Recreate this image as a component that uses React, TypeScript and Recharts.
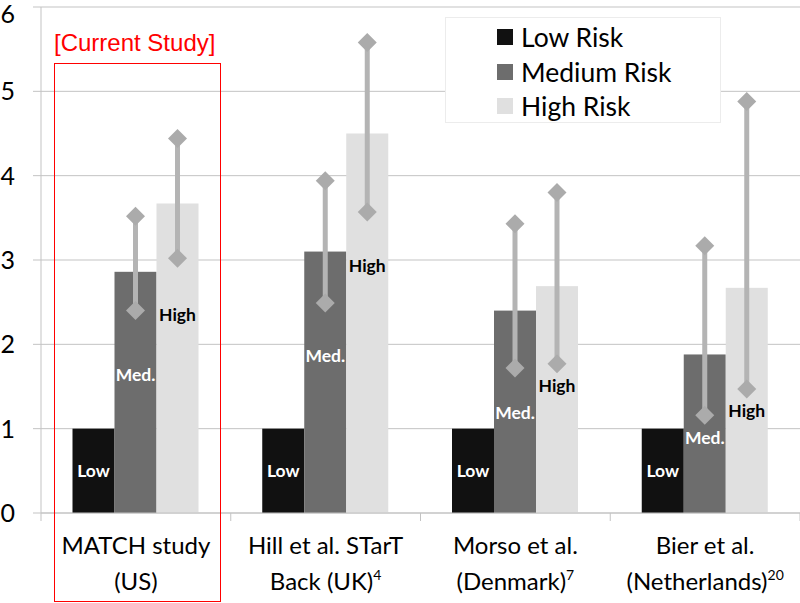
import React from "react";
import { BarChart, Bar, XAxis, YAxis, CartesianGrid, Legend } from "recharts";

// study names, split over two lines, with reference superscripts
const studyLine1 = ["MATCH study", "Hill et al. STarT", "Morso et al.", "Bier et al."];
const studyLine2 = ["(US)", "Back (UK)", "(Denmark)", "(Netherlands)"];
const studyRef = ["", "4", "7", "20"];

const seriesNames = ["Low Risk", "Medium Risk", "High Risk"];

const lowRisk = [1, 1, 1, 1];
const mediumRisk = [2.86, 3.1, 2.4, 1.88];
const highRisk = [3.67, 4.5, 2.69, 2.67];

// confidence intervals
const mediumLower = [2.4, 2.49, 1.72, 1.16];
const mediumUpper = [3.52, 3.94, 3.43, 3.17];
const highLower = [3.02, 3.57, 1.77, 1.47];
const highUpper = [4.44, 5.58, 3.8, 4.88];

// where the in-bar labels sit (in axis units)
const lowLabelAt = [0.5, 0.5, 0.5, 0.5];
const mediumLabelAt = [1.64, 1.87, 1.19, 0.89];
const highLabelAt = [2.35, 2.93, 1.51, 1.21];

const yTicks = [0, 1, 2, 3, 4, 5, 6];

const data = studyLine1.map((name, i) => ({
  name,
  low: lowRisk[i],
  medium: mediumRisk[i],
  high: highRisk[i],
  mediumLo: mediumLower[i],
  mediumHi: mediumUpper[i],
  highLo: highLower[i],
  highHi: highUpper[i],
  lowLabel: lowLabelAt[i],
  mediumLabel: mediumLabelAt[i],
  highLabel: highLabelAt[i],
}));

const GRID = "#c3c3c3";
const FONT = "Lato, 'Open Sans', sans-serif";

const diamond = (cx: number, cy: number, r = 9.5) =>
  `M${cx},${cy - r} L${cx + r},${cy} L${cx},${cy + r} L${cx - r},${cy} Z`;

function riskShape(
  valueKey: string,
  labelKey: string,
  text: string,
  textColor: string,
  loKey?: string,
  hiKey?: string
) {
  return (props: any) => {
    const { x, y, width, height, payload, fill } = props;
    const v = payload[valueKey];
    const unit = height / v;
    const base = y + height;
    const py = (n: number) => base - n * unit;
    const cx = x + width / 2;
    return (
      <g>
        <rect x={x} y={y} width={width} height={height} fill={fill} />
        {loKey && hiKey && (
          <g>
            <line
              x1={cx}
              x2={cx}
              y1={py(payload[loKey])}
              y2={py(payload[hiKey])}
              stroke="#b4b4b4"
              strokeWidth={5}
            />
            <path d={diamond(cx, py(payload[loKey]))} fill="#ababab" />
            <path d={diamond(cx, py(payload[hiKey]))} fill="#ababab" />
          </g>
        )}
        <text
          x={cx}
          y={py(payload[labelKey])}
          textAnchor="middle"
          dominantBaseline="central"
          fontFamily={FONT}
          fontWeight={700}
          fontSize={17.5}
          fill={textColor}
        >
          {text}
        </text>
      </g>
    );
  };
}

function StudyTick(props: any) {
  const { x, y, index, width, visibleTicksCount } = props;
  const half = width && visibleTicksCount ? width / visibleTicksCount / 2 : 95;
  const last = index === studyLine1.length - 1;
  return (
    <g>
      <line x1={x - half} x2={x - half} y1={y} y2={y + 8} stroke={GRID} />
      {last && <line x1={x + half} x2={x + half} y1={y} y2={y + 8} stroke={GRID} />}
      <text x={x} y={y + 41} textAnchor="middle" fontFamily={FONT} fontSize={24} fill="#000">
        {studyLine1[index]}
      </text>
      <text x={x} y={y + 77} textAnchor="middle" fontFamily={FONT} fontSize={24} fill="#000">
        {studyLine2[index]}
        {studyRef[index] && (
          <tspan dy={-10} fontSize={14}>
            {studyRef[index]}
          </tspan>
        )}
      </text>
    </g>
  );
}

function RiskLegend(props: any) {
  const { payload = [] } = props;
  const items = seriesNames
    .map((n) => payload.find((p: any) => p.value === n))
    .filter(Boolean);
  return (
    <div
      style={{
        width: 276,
        height: 106,
        background: "#fff",
        border: "1px solid #ececec",
        boxSizing: "border-box",
        paddingTop: 2,
        paddingLeft: 51,
        fontFamily: FONT,
        fontSize: 26.5,
        textAlign: "left",
      }}
    >
      {items.map((p: any) => (
        <div key={p.value} style={{ display: "flex", alignItems: "center", height: 34.5 }}>
          <span
            style={{ width: 16, height: 16, background: p.color, marginRight: 8, display: "inline-block" }}
          />
          <span>{p.value}</span>
        </div>
      ))}
    </div>
  );
}

export default function App() {
  return (
    <div style={{ position: "absolute", left: 0, top: 0, width: 800, height: 603, background: "#fff" }}>
      <BarChart
        width={800}
        height={603}
        data={data}
        margin={{ top: 7, right: 0, bottom: 0, left: 0 }}
        barCategoryGap="16.6%"
        barGap={0}
      >
        <CartesianGrid horizontal vertical={false} stroke={GRID} />
        <XAxis
          dataKey="name"
          height={90}
          tickSize={0}
          tickMargin={0}
          tickLine={false}
          axisLine={{ stroke: GRID }}
          tick={<StudyTick />}
          interval={0}
        />
        <YAxis
          width={41}
          domain={[0, 6]}
          ticks={yTicks}
          tickSize={8}
          tickMargin={18}
          axisLine={{ stroke: GRID }}
          tickLine={{ stroke: GRID }}
          tick={{ fontSize: 25, fill: "#000", fontFamily: FONT }}
        />
        <Legend
          layout="horizontal"
          align="center"
          verticalAlign="middle"
          wrapperStyle={{ left: 445, top: 17, width: 276, height: 106 }}
          content={<RiskLegend />}
        />
        <Bar
          dataKey="low"
          name="Low Risk"
          fill="#111111"
          isAnimationActive={false}
          shape={riskShape("low", "lowLabel", "Low", "#fff")}
        />
        <Bar
          dataKey="medium"
          name="Medium Risk"
          fill="#6d6d6d"
          isAnimationActive={false}
          shape={riskShape("medium", "mediumLabel", "Med.", "#fff", "mediumLo", "mediumHi")}
        />
        <Bar
          dataKey="high"
          name="High Risk"
          fill="#e0e0e0"
          isAnimationActive={false}
          shape={riskShape("high", "highLabel", "High", "#000", "highLo", "highHi")}
        />
      </BarChart>
      <div
        style={{
          position: "absolute",
          left: 54,
          top: 63,
          width: 167,
          height: 539,
          border: "1.5px solid #f00",
          boxSizing: "border-box",
          pointerEvents: "none",
        }}
      />
      <div
        style={{
          position: "absolute",
          left: 54,
          top: 29,
          fontFamily: "'Liberation Sans', Arial, sans-serif",
          fontSize: 24,
          color: "#f00",
          whiteSpace: "nowrap",
        }}
      >
        [Current Study]
      </div>
    </div>
  );
}
